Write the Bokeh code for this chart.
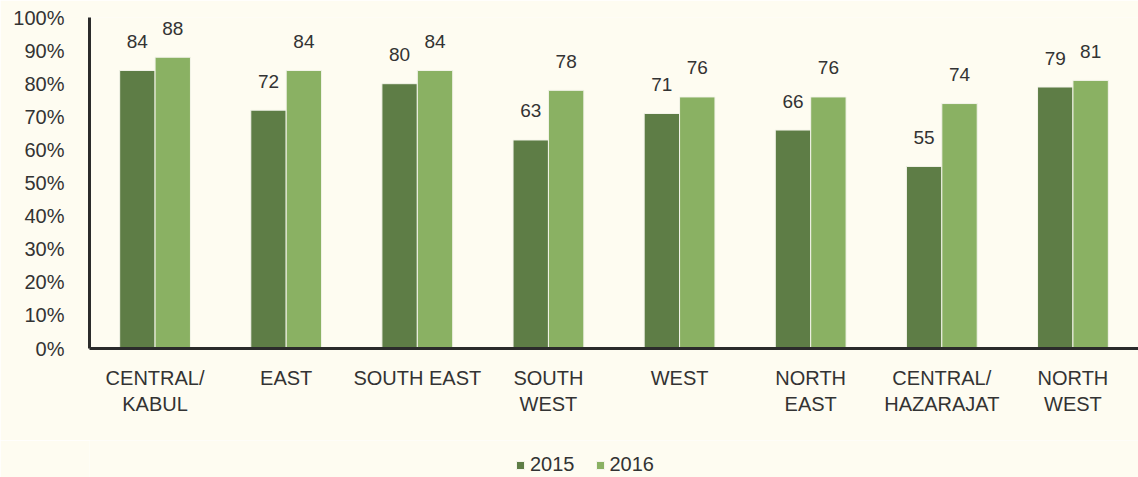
from bokeh.plotting import figure
from bokeh.layouts import column
from bokeh.models import ColumnDataSource, Range1d, FixedTicker, Legend, LegendItem
from bokeh.core.properties import value
from bokeh.embed import file_html
from bokeh.resources import INLINE

categories = ["CENTRAL/\nKABUL", "EAST", "SOUTH EAST", "SOUTH\nWEST", "WEST",
              "NORTH\nEAST", "CENTRAL/\nHAZARAJAT", "NORTH\nWEST"]
series_names = ["2015", "2016"]
values_2015 = [84, 72, 80, 63, 71, 66, 55, 79]
values_2016 = [88, 84, 84, 78, 76, 76, 74, 81]
y_ticks = [0, 10, 20, 30, 40, 50, 60, 70, 80, 90, 100]
y_tick_labels = [f"{t}%" for t in y_ticks]

BG = "#FEFCF1"
DARK = "#5E7D46"
LIGHT = "#8AB163"
EDGE = "#F4F4EA"
TXT = "#333333"
FONT = "Liberation Sans"

centers = [i + 0.5 for i in range(len(categories))]
off = 0.135
bw = 0.27

src15 = ColumnDataSource(dict(x=[c - off for c in centers], top=[v / 100 for v in values_2015],
                              label=[str(v) for v in values_2015]))
src16 = ColumnDataSource(dict(x=[c + off for c in centers], top=[v / 100 for v in values_2016],
                              label=[str(v) for v in values_2016]))

p = figure(width=1138, height=440, output_backend="svg", toolbar_location=None,
           x_range=Range1d(0, 8), y_range=Range1d(0, 1.0),
           min_border_left=89, min_border_right=0, min_border_top=17, min_border_bottom=92)
p.background_fill_color = BG
p.border_fill_color = BG
p.outline_line_color = None
p.xgrid.grid_line_color = None
p.ygrid.grid_line_color = None

p.vbar(x="x", top="top", width=bw, source=src15, fill_color=DARK, line_color=EDGE, line_width=1)
p.vbar(x="x", top="top", width=bw, source=src16, fill_color=LIGHT, line_color=EDGE, line_width=1)

for s in (src15, src16):
    p.text(x="x", y="top", text="label", source=s, text_align="center", text_baseline="alphabetic",
           y_offset=-29, text_font=value(FONT), text_font_size="19px", text_color=TXT)

# y axis
p.yaxis.ticker = FixedTicker(ticks=[t / 100 for t in y_ticks])
p.yaxis.major_label_overrides = {t / 100: lab for t, lab in zip(y_ticks, y_tick_labels)}
p.yaxis.major_label_text_font = FONT
p.yaxis.major_label_text_font_size = "20px"
p.yaxis.major_label_text_color = TXT
p.yaxis.major_label_standoff = 19
p.yaxis.major_tick_line_color = None
p.yaxis.minor_tick_line_color = None
p.yaxis.axis_line_width = 3
p.yaxis.axis_line_color = "#2B2B2B"

# x axis
p.xaxis.ticker = FixedTicker(ticks=centers)
p.xaxis.major_label_overrides = {c: lab for c, lab in zip(centers, categories)}
p.xaxis.major_label_text_font = FONT
p.xaxis.major_label_text_font_size = "20px"
p.xaxis.major_label_text_color = TXT
p.xaxis.major_label_standoff = 12
p.xaxis.major_tick_line_color = None
p.xaxis.minor_tick_line_color = None
p.xaxis.axis_line_width = 3
p.xaxis.axis_line_color = "#2B2B2B"

# legend strip below the chart (its frame is aligned with the chart's frame)
lg = figure(width=1138, height=37, output_backend="svg", toolbar_location=None,
            x_range=Range1d(0, 1), y_range=Range1d(0, 1),
            min_border_left=89, min_border_right=0, min_border_top=0, min_border_bottom=0)
lg.background_fill_color = BG
lg.border_fill_color = BG
lg.outline_line_color = None
lg.axis.visible = False
lg.grid.visible = False
# proxy renderers for the legend swatches (placed outside the visible range)
d15 = lg.vbar(x=[-5], top=[0], width=0.1, fill_color=DARK, line_color=EDGE)
d16 = lg.vbar(x=[-5], top=[0], width=0.1, fill_color=LIGHT, line_color=EDGE)

legend = Legend(items=[LegendItem(label=series_names[0], renderers=[d15]),
                       LegendItem(label=series_names[1], renderers=[d16])],
                orientation="horizontal", location=(426, 1),
                glyph_width=10, glyph_height=10, label_standoff=5, spacing=20,
                padding=0, margin=0, border_line_color=None, background_fill_alpha=0,
                label_text_font=FONT, label_text_font_size="20px", label_text_color=TXT,
                label_height=20)
lg.add_layout(legend, "center")

layout = column(p, lg, spacing=0)
html = file_html(layout, INLINE)
html = html.replace("<body", '<body style="background:%s"' % BG, 1)
open("out.html", "w").write(html)
